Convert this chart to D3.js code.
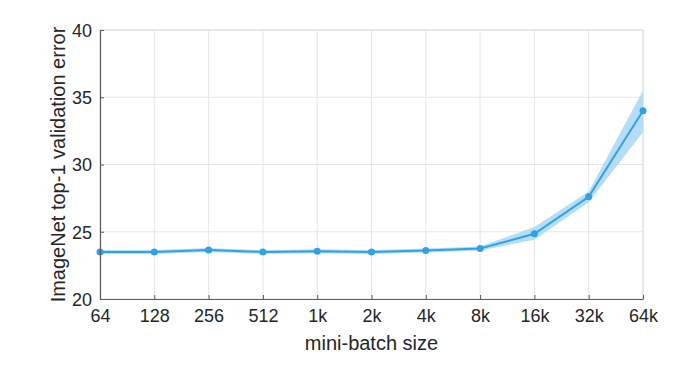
<!DOCTYPE html>
<html>
<head>
<meta charset="utf-8">
<script src="https://cdn.jsdelivr.net/npm/d3@7"></script>
<style>
  body { margin: 0; background: #fff; }
  svg text { font-family: "Liberation Sans", Arial, sans-serif; fill: #262626; }
</style>
</head>
<body>
<svg></svg>
<script>
// canvas
const w = 678;
const h = 367;
const margin = { left: 100, right: 35, top: 30, bottom: 68 };

// data
const batchSizes = ["64", "128", "256", "512", "1k", "2k", "4k", "8k", "16k", "32k", "64k"];
const errMean  = [23.5, 23.5, 23.65, 23.5, 23.55, 23.5, 23.6, 23.75, 24.85, 27.6, 34.0];
const errLow   = [23.35, 23.35, 23.5, 23.35, 23.4, 23.35, 23.45, 23.6, 24.4, 27.2, 32.4];
const errHigh  = [23.65, 23.65, 23.8, 23.62, 23.7, 23.65, 23.75, 23.9, 25.35, 28.0, 35.5];
const yTicks = [20, 25, 30, 35, 40];

const svg = d3.select("svg")
              .attr("width", w)
              .attr("height", h);

const xScale = d3.scalePoint()
                 .domain(batchSizes)
                 .range([margin.left, w - margin.right]);

const yScale = d3.scaleLinear()
                 .domain([20, 40])
                 .range([h - margin.bottom, margin.top]);

const values = batchSizes.map((b, i) => ({ b: b, m: errMean[i], lo: errLow[i], hi: errHigh[i] }));

// grid lines
svg.append("g")
   .selectAll("line")
   .data(batchSizes)
   .enter()
   .append("line")
   .attr("x1", d => xScale(d)).attr("x2", d => xScale(d))
   .attr("y1", yScale(20)).attr("y2", yScale(40))
   .attr("stroke", "#e6e6e6");

svg.append("g")
   .selectAll("line")
   .data(yTicks)
   .enter()
   .append("line")
   .attr("x1", xScale.range()[0]).attr("x2", xScale.range()[1])
   .attr("y1", d => yScale(d)).attr("y2", d => yScale(d))
   .attr("stroke", "#e6e6e6");

// top / right box edges
svg.append("path")
   .attr("d", "M" + xScale.range()[0] + "," + yScale(40) + "H" + xScale.range()[1] + "V" + yScale(20))
   .attr("fill", "none")
   .attr("stroke", "#dcdcdc");

// shaded band
const area = d3.area()
               .x(d => xScale(d.b))
               .y0(d => yScale(d.lo))
               .y1(d => yScale(d.hi));

svg.append("path")
   .datum(values)
   .attr("d", area)
   .attr("fill", "#b5ddf6");

// mean line + markers
const line = d3.line()
               .x(d => xScale(d.b))
               .y(d => yScale(d.m));

svg.append("path")
   .datum(values)
   .attr("d", line)
   .attr("fill", "none")
   .attr("stroke", "#2ea3e3")
   .attr("stroke-width", 2);

svg.selectAll("circle")
   .data(values)
   .enter()
   .append("circle")
   .attr("cx", d => xScale(d.b))
   .attr("cy", d => yScale(d.m))
   .attr("r", 3.5)
   .attr("fill", "#2ea3e3");

// axes
const xAxis = d3.axisBottom(xScale).tickSizeInner(-4).tickSizeOuter(0).tickPadding(10);
const yAxis = d3.axisLeft(yScale).tickValues(yTicks).tickSizeInner(-4).tickSizeOuter(0).tickPadding(8);

const gx = svg.append("g")
              .attr("transform", "translate(0, " + (h - margin.bottom) + ")")
              .call(xAxis);

const gy = svg.append("g")
              .attr("transform", "translate(" + margin.left + ", 0)")
              .call(yAxis);

[gx, gy].forEach(g => {
  g.select(".domain").attr("stroke", "#5a5a5a").attr("stroke-width", 1.2);
  g.selectAll(".tick line").attr("stroke", "#5a5a5a");
  g.selectAll(".tick text").attr("font-size", 18).attr("fill", "#262626");
});
gy.selectAll(".tick text").attr("dy", "0.36em");

// axis titles
svg.append("text")
   .attr("x", (xScale.range()[0] + xScale.range()[1]) / 2)
   .attr("y", 350)
   .attr("text-anchor", "middle")
   .attr("font-size", 20)
   .text("mini-batch size");

svg.append("text")
   .attr("transform", "translate(65, " + ((yScale(20) + yScale(40)) / 2) + ") rotate(-90)")
   .attr("text-anchor", "middle")
   .attr("font-size", 20)
   .text("ImageNet top-1 validation error");
</script>
</body>
</html>
